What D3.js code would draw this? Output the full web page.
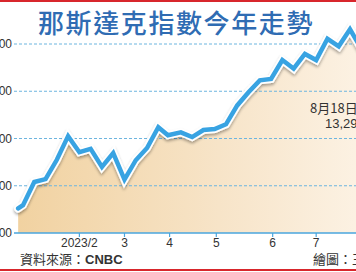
<!doctype html>
<html lang="zh-Hant">
<head>
<meta charset="utf-8">
<title>那斯達克指數今年走勢</title>
<script src="https://cdn.jsdelivr.net/npm/d3@7/dist/d3.min.js"></script>
<style>
  html, body { margin: 0; padding: 0; background: #fff; }
  svg { display: block; }
  text { font-family: "Liberation Sans", Arial, sans-serif; }
  .cjk { font-family: "Noto Sans CJK TC", "Noto Sans", sans-serif; }
</style>
</head>
<body>
<script>
// weekly closes
var dates = ["2023-01-03","2023-01-06","2023-01-13","2023-01-20","2023-01-27",
             "2023-02-03","2023-02-10","2023-02-17","2023-02-24",
             "2023-03-03","2023-03-10","2023-03-17","2023-03-24","2023-03-31",
             "2023-04-06","2023-04-14","2023-04-21","2023-04-28",
             "2023-05-05","2023-05-12","2023-05-19","2023-05-26",
             "2023-06-02","2023-06-09","2023-06-16","2023-06-23","2023-06-30",
             "2023-07-07","2023-07-14","2023-07-21","2023-07-28",
             "2023-08-04","2023-08-11","2023-08-18"];
var values = [10520, 10590, 11080, 11140, 11550,
              12050, 11710, 11780, 11400,
              11690, 11130, 11540, 11800, 12240,
              12070, 12130, 12030, 12180,
              12200, 12300, 12700, 12980,
              13230, 13260, 13660, 13480, 13790,
              13660, 14110, 13950, 14310,
              13900, 13640, 13290];
var yTicks = [10000, 11000, 12000, 13000, 14000];
var monthTickDates = ["2023-02-10","2023-03-10","2023-04-07","2023-05-06","2023-06-10","2023-07-07"];
var monthTickLabels = ["2023/2","3","4","5","6","7"];

var W = 356, H = 272;
var parse = d3.timeParse("%Y-%m-%d");
var data = dates.map(function(d, i){ return {date: parse(d), value: values[i]}; });

var svg = d3.select("body").append("svg").attr("width", W).attr("height", H);

var x = d3.scaleTime().domain([parse("2023-01-06"), parse("2023-07-28")]).range([23, 350]);
var y = d3.scaleLinear().domain([10000, 14000]).range([233, 44]);

var defs = svg.append("defs");
var grad = defs.append("linearGradient").attr("id", "fill").attr("x1", 0).attr("x2", 1).attr("y1", 0).attr("y2", 0);
grad.append("stop").attr("offset", "0%").attr("stop-color", "#f1d2a1");
grad.append("stop").attr("offset", "55%").attr("stop-color", "#f7e4c8");
grad.append("stop").attr("offset", "100%").attr("stop-color", "#fdf4e8");
var shadow = defs.append("filter").attr("id", "sh").attr("x", "-10%").attr("y", "-10%").attr("width", "120%").attr("height", "130%");
shadow.append("feGaussianBlur").attr("in", "SourceAlpha").attr("stdDeviation", 1.5);
shadow.append("feOffset").attr("dx", 0).attr("dy", 2).attr("result", "b");
shadow.append("feComponentTransfer").append("feFuncA").attr("type", "linear").attr("slope", 0.35);
var m = shadow.append("feMerge");
m.append("feMergeNode");
m.append("feMergeNode").attr("in", "SourceGraphic");

// red rules top and bottom
svg.append("rect").attr("x", 0).attr("y", 0).attr("width", W).attr("height", 2).attr("fill", "#d8262c");
svg.append("rect").attr("x", 0).attr("y", 269).attr("width", W).attr("height", 2).attr("fill", "#d8262c");

// area
var area = d3.area().x(function(d){ return x(d.date); }).y0(y(10000)).y1(function(d){ return y(d.value); });
svg.append("path").datum(data).attr("d", area).attr("fill", "url(#fill)");

// grid
svg.append("g").selectAll("line").data(yTicks.slice(1)).enter().append("line")
  .attr("x1", 14).attr("x2", W)
  .attr("y1", function(d){ return y(d); }).attr("y2", function(d){ return y(d); })
  .attr("stroke", "#6db5df").attr("stroke-width", 1).attr("stroke-dasharray", "3,2");

svg.append("g").selectAll("text").data(yTicks).enter().append("text")
  .attr("x", 12).attr("y", function(d){ return y(d) + 4; })
  .attr("text-anchor", "end").attr("font-size", 12).attr("fill", "#333")
  .text(function(d){ return d; });

// baseline + month ticks
svg.append("line").attr("x1", 14).attr("x2", W).attr("y1", y(10000)).attr("y2", y(10000))
  .attr("stroke", "#4aa6de").attr("stroke-width", 1.5);
var mt = monthTickDates.map(parse);
svg.append("g").selectAll("line").data(mt).enter().append("line")
  .attr("x1", function(d){ return x(d); }).attr("x2", function(d){ return x(d); })
  .attr("y1", y(10000)).attr("y2", y(10000) + 4)
  .attr("stroke", "#4aa6de").attr("stroke-width", 1.2);
svg.append("g").selectAll("text").data(mt).enter().append("text")
  .attr("x", function(d){ return x(d); }).attr("y", 247)
  .attr("text-anchor", "middle").attr("font-size", 12).attr("fill", "#333")
  .text(function(d, i){ return monthTickLabels[i]; });

// line
var line = d3.line().x(function(d){ return x(d.date); }).y(function(d){ return y(d.value); });
var lg = svg.append("g").attr("filter", "url(#sh)");
lg.append("path").datum(data).attr("d", line).attr("fill", "none")
  .attr("stroke", "#fff").attr("stroke-width", 8).attr("stroke-linejoin", "miter").attr("stroke-linecap", "round");
lg.append("path").datum(data).attr("d", line).attr("fill", "none")
  .attr("stroke", "#38a3e2").attr("stroke-width", 4.5).attr("stroke-linejoin", "miter").attr("stroke-linecap", "round");

// title
svg.append("text").attr("class", "cjk").attr("x", 176).attr("y", 33)
  .attr("text-anchor", "middle").attr("font-size", 26).attr("font-weight", 500)
  .attr("letter-spacing", 1.6).attr("fill", "#2f6cb3")
  .text("那斯達克指數今年走勢");

// last value note
var last = data[data.length - 1];
svg.append("text").attr("class", "cjk").attr("x", 310).attr("y", 113)
  .attr("font-size", 13).attr("fill", "#333").text("8月18日收盤");
svg.append("text").attr("x", 325).attr("y", 128)
  .attr("font-size", 13).attr("fill", "#333").text(d3.format(",")(last.value) + ".78");

// source + credit
var src = svg.append("text").attr("class", "cjk").attr("x", 20).attr("y", 264)
  .attr("font-size", 13).attr("fill", "#333");
src.append("tspan").text("資料來源：");
src.append("tspan").attr("font-family", "Liberation Sans, Arial, sans-serif").attr("font-weight", "bold").text("CNBC");
svg.append("text").attr("class", "cjk").attr("x", 313).attr("y", 264)
  .attr("font-size", 13).attr("fill", "#333").text("繪圖：王");
</script>
</body>
</html>
